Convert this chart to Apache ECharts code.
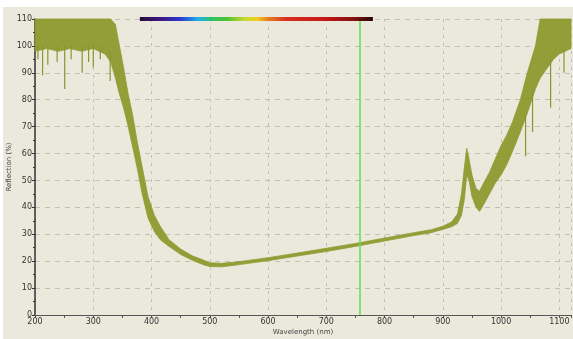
<!DOCTYPE html>
<html>
<head>
<meta charset="utf-8">
<script src="https://cdn.jsdelivr.net/npm/echarts@6/dist/echarts.min.js"></script>
<style>
  html, body { margin: 0; padding: 0; background: #fff; }
  #chart { position: absolute; left: 3px; top: 7px; width: 570px; height: 332px; }
</style>
</head>
<body>
<div id="chart"></div>
<script>
// wavelength grid (nm) and noise envelope (%)
const waveNm = [200, 220, 240, 260, 280, 300, 320, 330, 338, 345, 352, 360, 367, 375, 384, 394, 405, 415, 430, 450,
  470, 490, 500, 520, 540, 560, 600, 650, 700, 750, 800, 850, 880, 900, 915, 925, 932, 937, 941, 945,
  950, 957, 963, 970, 980, 990, 1000, 1010, 1020, 1033, 1045, 1059, 1067, 1080, 1090, 1100, 1110, 1120];
const upperPct = [110, 110, 110, 110, 110, 110, 110, 110, 108, 100, 92, 82, 75, 65, 55, 44, 37, 33, 28, 24.5,
  22, 20.3, 19.4, 19.2, 19.6, 20.1, 21.3, 23, 24.8, 26.6, 28.6, 30.6, 31.7, 33, 34.6, 37.5, 45, 55, 62, 58,
  52, 47, 46, 49, 53, 58, 63, 67, 72, 80, 90, 100, 110, 110, 110, 110, 110, 110];
const lowerPct = [98, 99, 98, 99, 98, 99, 97, 94, 88, 82, 77, 70, 63, 55, 45, 36, 31, 28, 25.5, 22.5,
  20.3, 18.6, 18, 17.9, 18.4, 19, 20.2, 21.9, 23.6, 25.5, 27.5, 29.5, 30.6, 31.8, 32.8, 34, 37, 43, 52, 50,
  44, 40, 38.5, 41, 45, 49, 52, 56, 61, 68, 75, 84, 88, 92, 95, 97, 98, 99];
// single downward spikes: [nm, from %, to %]
const spikes = [[205, 100, 95], [213, 100, 89], [222, 100, 93], [238, 100, 94], [251, 100, 84], [262, 100, 95],
  [281, 100, 90], [292, 100, 94], [300, 100, 92], [312, 100, 95], [329, 98, 87],
  [1042, 74, 59], [1054, 84, 68], [1085, 95, 77], [1108, 99, 90]];
// visible spectrum bar and marker
const spectrumRange = [380, 780];
const markerNm = 757;
const xTicks = [200, 1120, 100];
const yTicks = [0, 110, 10];

const spectrumStops = [
  [380, '#2a0a3a'], [420, '#3a1a8a'], [450, '#2a3ad0'], [480, '#20b0e8'], [505, '#30c060'],
  [530, '#50c030'], [560, '#c8d830'], [580, '#f0d020'], [600, '#e88020'], [630, '#d83020'],
  [700, '#c01818'], [750, '#801010'], [780, '#200808']
];

const chart = echarts.init(document.getElementById('chart'));
const olive = '#8e9a2e';

chart.setOption({
  backgroundColor: '#ebe9dc',
  animation: false,
  grid: { left: 32, right: 2, top: 12, bottom: 24, outerBoundsMode: 'none' },
  xAxis: {
    type: 'value', min: xTicks[0], max: xTicks[1], interval: xTicks[2],
    name: 'Wavelength (nm)', nameLocation: 'middle', nameGap: 14, nameMoveOverlap: false,
    nameTextStyle: { fontSize: 7, color: '#444', fontFamily: 'DejaVu Sans' },
    axisLine: { lineStyle: { color: '#555', width: 1 } },
    axisTick: { length: 3, lineStyle: { color: '#555' } },
    minorTick: { show: true, splitNumber: 2, length: 3, lineStyle: { color: '#555' } },
    axisLabel: { fontSize: 8, color: '#333', margin: 3, showMaxLabel: false, fontFamily: 'DejaVu Sans',
      formatter: (v) => String(v) },
    splitLine: { show: true, lineStyle: { color: '#c2c0b4', type: [3, 5], width: 1 } }
  },
  yAxis: {
    type: 'value', min: yTicks[0], max: yTicks[1], interval: yTicks[2],
    name: 'Reflection (%)', nameLocation: 'middle', nameGap: 22, nameRotate: 90, nameMoveOverlap: false,
    nameTextStyle: { fontSize: 7, color: '#444', fontFamily: 'DejaVu Sans' },
    axisLine: { show: true, lineStyle: { color: '#333', width: 1.5 } },
    axisTick: { show: true, length: 3, lineStyle: { color: '#333' } },
    minorTick: { show: true, splitNumber: 2, length: 2, lineStyle: { color: '#333' } },
    axisLabel: { fontSize: 8, color: '#333', margin: 3, fontFamily: 'DejaVu Sans',
      formatter: (v) => String(v) },
    splitLine: { show: true, lineStyle: { color: '#c2c0b4', type: [5, 5], width: 1 } }
  },
  series: [
    {
      // noise band: upper envelope forward, lower envelope back
      type: 'custom', silent: true, z: 3,
      data: [[waveNm[0], upperPct[0]]],
      renderItem: (params, api) => {
        const pts = waveNm.map((w, i) => api.coord([w, upperPct[i]]));
        for (let i = waveNm.length - 1; i >= 0; i--) pts.push(api.coord([waveNm[i], lowerPct[i]]));
        return {
          type: 'polygon', shape: { points: pts },
          style: { fill: olive, stroke: olive, lineWidth: 0.8, opacity: 0.95 }
        };
      }
    },
    {
      type: 'custom', silent: true, z: 4,
      data: spikes,
      renderItem: (params, api) => {
        const a = api.coord([api.value(0), api.value(1)]);
        const b = api.coord([api.value(0), api.value(2)]);
        return { type: 'line', shape: { x1: a[0], y1: a[1], x2: b[0], y2: b[1] },
          style: { stroke: '#8a9530', lineWidth: 1.2 } };
      }
    },
    {
      type: 'line', data: [], silent: true,
      markLine: {
        silent: true, symbol: 'none', label: { show: false },
        lineStyle: { color: '#66dd55', width: 1.5, type: 'solid' },
        data: [{ xAxis: markerNm }]
      }
    },
    {
      type: 'custom', silent: true, z: 6, clip: false,
      data: [[spectrumRange[0], spectrumRange[1]]],
      renderItem: (params, api) => {
        const p0 = api.coord([api.value(0), 110]);
        const p1 = api.coord([api.value(1), 110]);
        const span = spectrumRange[1] - spectrumRange[0];
        return {
          type: 'rect',
          shape: { x: p0[0], y: p0[1] - 2, width: p1[0] - p0[0], height: 4 },
          style: {
            fill: new echarts.graphic.LinearGradient(0, 0, 1, 0,
              spectrumStops.map(s => ({ offset: (s[0] - spectrumRange[0]) / span, color: s[1] })))
          }
        };
      }
    }
  ]
});
</script>
</body>
</html>
